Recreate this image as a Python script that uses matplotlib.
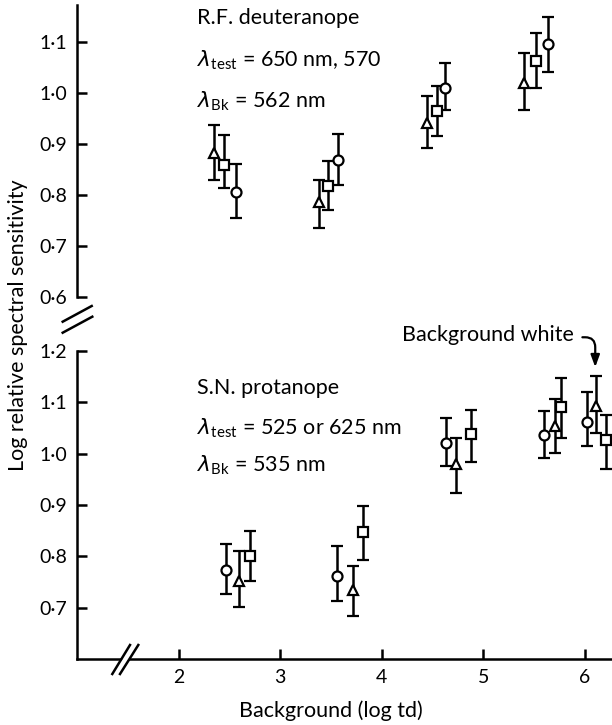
import numpy as np
import matplotlib
matplotlib.use("Agg")
import matplotlib.pyplot as plt
from matplotlib.lines import Line2D

plt.rcParams['font.family'] = ['Lato', 'DejaVu Sans']
plt.rcParams['mathtext.fontset'] = 'custom'
plt.rcParams['mathtext.rm'] = 'Lato'
plt.rcParams['mathtext.it'] = 'DejaVu Sans:italic'

# R.F. deuteranope (top panel)
rf_tri_x = [2.35, 3.38, 4.44, 5.40]
rf_tri_y = [0.882, 0.786, 0.941, 1.019]
rf_tri_lo = [0.829, 0.735, 0.892, 0.967]
rf_tri_hi = [0.937, 0.829, 0.994, 1.078]

rf_sq_x = [2.45, 3.47, 4.54, 5.52]
rf_sq_y = [0.859, 0.818, 0.965, 1.063]
rf_sq_lo = [0.814, 0.771, 0.916, 1.010]
rf_sq_hi = [0.918, 0.867, 1.014, 1.118]

rf_circ_x = [2.56, 3.57, 4.62, 5.64]
rf_circ_y = [0.806, 0.868, 1.010, 1.096]
rf_circ_lo = [0.755, 0.820, 0.967, 1.041]
rf_circ_hi = [0.860, 0.920, 1.059, 1.149]

# S.N. protanope (bottom panel)
sn_circ_x = [2.47, 3.56, 4.63, 5.60, 6.02]
sn_circ_y = [0.773, 0.762, 1.021, 1.036, 1.062]
sn_circ_lo = [0.726, 0.714, 0.975, 0.992, 1.015]
sn_circ_hi = [0.825, 0.821, 1.070, 1.083, 1.120]

sn_tri_x = [2.59, 3.72, 4.73, 5.70, 6.11]
sn_tri_y = [0.753, 0.734, 0.980, 1.054, 1.093]
sn_tri_lo = [0.702, 0.685, 0.924, 1.001, 1.040]
sn_tri_hi = [0.810, 0.782, 1.030, 1.106, 1.150]

sn_sq_x = [2.70, 3.81, 4.88, 5.76, 6.21]
sn_sq_y = [0.801, 0.847, 1.038, 1.091, 1.027]
sn_sq_lo = [0.753, 0.794, 0.983, 1.031, 0.970]
sn_sq_hi = [0.849, 0.899, 1.085, 1.146, 1.075]

x_ticks = [2, 3, 4, 5, 6]
x_ticklabels = ['2', '3', '4', '5', '6']
top_yticks = [0.6, 0.7, 0.8, 0.9, 1.0, 1.1]
top_yticklabels = ['0·6', '0·7', '0·8', '0·9', '1·0', '1·1']
bot_yticks = [0.7, 0.8, 0.9, 1.0, 1.1, 1.2]
bot_yticklabels = ['0·7', '0·8', '0·9', '1·0', '1·1', '1·2']

W, H = 612, 725
FS = 15.5
fig = plt.figure(figsize=(6.12, 7.25), dpi=100)

ax_top = fig.add_axes([77 / W, 1 - 297 / H, 535 / W, 292 / H])
ax_bot = fig.add_axes([77 / W, 1 - 659.3 / H, 535 / W, 308.6 / H])


def draw(ax, x, y, lo, hi, marker, ms):
    y = np.array(y)
    err = [y - np.array(lo), np.array(hi) - y]
    ax.errorbar(x, y, yerr=err, fmt=marker, ms=ms, mfc='white', mec='black',
                mew=1.6, ecolor='black', elinewidth=1.8, capsize=4.5,
                capthick=1.8, color='black', zorder=3)


draw(ax_top, rf_tri_x, rf_tri_y, rf_tri_lo, rf_tri_hi, '^', 7.5)
draw(ax_top, rf_sq_x, rf_sq_y, rf_sq_lo, rf_sq_hi, 's', 6.5)
draw(ax_top, rf_circ_x, rf_circ_y, rf_circ_lo, rf_circ_hi, 'o', 7.2)

draw(ax_bot, sn_circ_x, sn_circ_y, sn_circ_lo, sn_circ_hi, 'o', 7.2)
draw(ax_bot, sn_tri_x, sn_tri_y, sn_tri_lo, sn_tri_hi, '^', 7.5)
draw(ax_bot, sn_sq_x, sn_sq_y, sn_sq_lo, sn_sq_hi, 's', 6.5)

for ax in (ax_top, ax_bot):
    ax.set_xlim(1.0, 6.265)
    for s in ('top', 'right'):
        ax.spines[s].set_visible(False)
    ax.spines['left'].set_linewidth(1.8)
    ax.spines['bottom'].set_linewidth(1.8)
    ax.tick_params(direction='in', length=7, width=1.8, labelsize=14, pad=7)

ax_top.set_ylim(0.6, 1.1725)
ax_top.spines['bottom'].set_visible(False)
ax_top.set_xticks([])
ax_top.set_yticks(top_yticks)
ax_top.set_yticklabels(top_yticklabels)

ax_bot.set_ylim(0.6, 1.2)
ax_bot.set_yticks(bot_yticks)
ax_bot.set_yticklabels(bot_yticklabels)
ax_bot.set_xticks(x_ticks)
ax_bot.set_xticklabels(x_ticklabels)

# text labels
ax_top.text(0.225, 0.955, 'R.F. deuteranope', transform=ax_top.transAxes,
            fontsize=FS, va='center')
ax_top.text(0.225, 0.81, r'$\lambda_{\mathrm{test}}$ = 650 nm, 570',
            transform=ax_top.transAxes, fontsize=FS, va='center')
ax_top.text(0.225, 0.67, r'$\lambda_{\mathrm{Bk}}$ = 562 nm',
            transform=ax_top.transAxes, fontsize=FS, va='center')

ax_bot.text(0.225, 0.88, 'S.N. protanope', transform=ax_bot.transAxes,
            fontsize=FS, va='center')
ax_bot.text(0.225, 0.75, r'$\lambda_{\mathrm{test}}$ = 525 or 625 nm',
            transform=ax_bot.transAxes, fontsize=FS, va='center')
ax_bot.text(0.225, 0.63, r'$\lambda_{\mathrm{Bk}}$ = 535 nm',
            transform=ax_bot.transAxes, fontsize=FS, va='center')

ax_bot.annotate('Background white', xy=(6.10, 1.168), xytext=(4.20, 1.23),
                fontsize=FS, va='center', annotation_clip=False,
                arrowprops=dict(arrowstyle='-|>,head_length=0.6,head_width=0.22',
                                color='black', lw=1.6,
                                connectionstyle='angle,angleA=0,angleB=90,rad=10',
                                relpos=(1.0, 0.4), shrinkA=4, shrinkB=0,
                                mutation_scale=12))

fig.text(18 / W, 1 - 325 / H, 'Log relative spectral sensitivity',
         rotation=90, ha='center', va='center', fontsize=FS)
fig.text(331 / W, 1 - 711 / H, 'Background (log td)', ha='center',
         va='center', fontsize=FS)

# axis break marks
def brk(x0, y0, x1, y1):
    fig.add_artist(Line2D([x0 / W, x1 / W], [1 - y0 / H, 1 - y1 / H],
                          color='black', lw=1.8, transform=fig.transFigure))

brk(62.7, 321.7, 91.7, 306)
brk(62.7, 332.7, 92.3, 316.7)

fig.add_artist(plt.Polygon([[114 / W, 1 - 672 / H], [131 / W, 1 - 646 / H],
                            [138 / W, 1 - 646 / H], [121 / W, 1 - 672 / H]],
                           closed=True, fc='white', ec='none',
                           transform=fig.transFigure))
brk(112.3, 674, 130, 645)
brk(120, 674, 138.3, 645)

fig.savefig('out.png', dpi=100)
